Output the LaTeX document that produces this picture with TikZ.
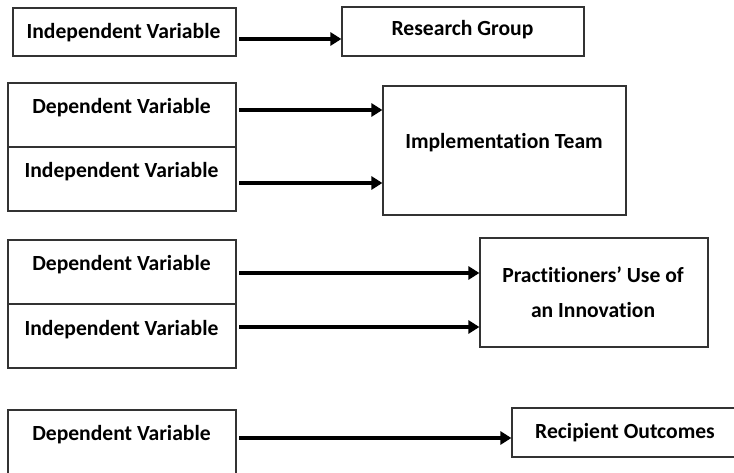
\documentclass[tikz,border=0pt]{standalone}
\usepackage{fontspec}
\setmainfont[Ligatures=NoCommon]{Carlito}
\usetikzlibrary{arrows.meta}
\begin{document}
\begin{tikzpicture}[x=1pt,y=-1pt,
  box/.style={draw=black!80, line width=1.2pt, rectangle, inner sep=0pt},
  lbl/.style={font=\fontsize{21.6}{35}\selectfont\bfseries, inner sep=0pt, align=center, text=black},
  arr/.style={line width=4pt, -{Triangle[length=11pt,width=13pt]}}
]
\useasboundingbox (0,0) rectangle (734,473);
\clip (0,0) rectangle (734,473);
% boxes
\node[box, minimum width=223pt, minimum height=48pt] (b1) at (124.5,32) {};
\node[box, minimum width=242pt, minimum height=49pt] (rg) at (463,31.5) {};
\node[box, minimum width=228pt, minimum height=64pt] (b2a) at (122,115) {};
\node[box, minimum width=228pt, minimum height=64pt] (b2b) at (122,179) {};
\node[box, minimum width=243pt, minimum height=129pt] (imp) at (504.5,150.5) {};
\node[box, minimum width=228pt, minimum height=64pt] (b3a) at (122,272) {};
\node[box, minimum width=228pt, minimum height=64pt] (b3b) at (122,336) {};
\node[box, minimum width=228pt, minimum height=109pt] (prac) at (594,292.5) {};
\node[box, minimum width=228pt, minimum height=80pt] (b4) at (122,450) {};
\node[box, minimum width=260pt, minimum height=49pt] (rec) at (642,432.5) {};
% labels
\node[lbl] (t1) at (123.5,33) {Independent Variable};
\node[lbl] (t2) at (462.5,30) {Research Group};
\node[lbl] (t3) at (121.5,108) {Dependent Variable};
\node[lbl] (t4) at (121.5,172) {Independent Variable};
\node[lbl] (t5) at (504,143) {Implementation Team};
\node[lbl] (t6) at (121.5,265) {Dependent Variable};
\node[lbl] (t7) at (121.5,330) {Independent Variable};
\node[lbl] (t8) at (593,292.5) {Practitioners’ Use of\\an Innovation};
\node[lbl] (t9) at (121.5,435) {Dependent Variable};
\node[lbl] (t10) at (625,433) {Recipient Outcomes};
% arrows
\coordinate (s1) at (239,39);
\coordinate (s2) at (239,110);
\coordinate (s3) at (239,183);
\coordinate (s4) at (239,273);
\coordinate (s5) at (239,327);
\coordinate (s6) at (239,438);
\draw[arr] (s1) -- (s1 -| rg.west);
\draw[arr] (s2) -- (s2 -| imp.west);
\draw[arr] (s3) -- (s3 -| imp.west);
\draw[arr] (s4) -- (s4 -| prac.west);
\draw[arr] (s5) -- (s5 -| prac.west);
\draw[arr] (s6) -- (s6 -| rec.west);
\end{tikzpicture}
\end{document}
